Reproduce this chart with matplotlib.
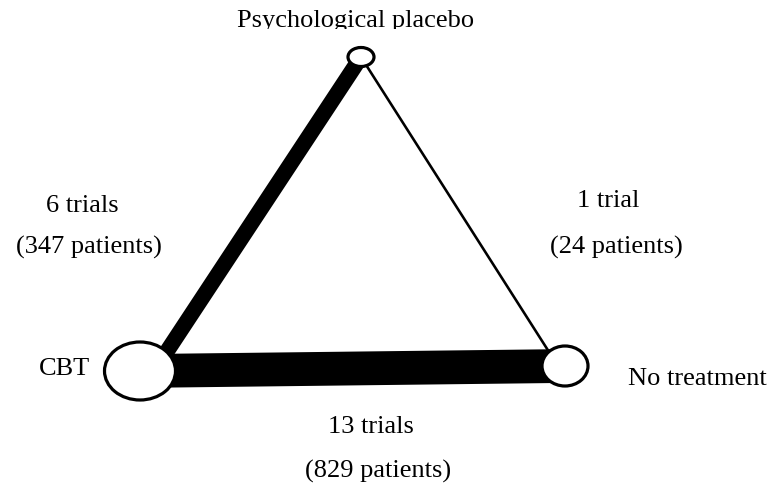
import matplotlib.pyplot as plt
from matplotlib.patches import Ellipse

# Nätverksdata
treatments = ['CBT', 'Psychological placebo', 'No treatment']
edges = [('CBT', 'Psychological placebo'), ('Psychological placebo', 'No treatment'), ('CBT', 'No treatment')]
trials = [6, 1, 13]
patients = [347, 24, 829]

# layout i pixlar
pos = {'CBT': (140, 371), 'Psychological placebo': (361, 57), 'No treatment': (565, 366)}
node_size = {'CBT': (71, 58), 'Psychological placebo': (26, 19), 'No treatment': (46, 40)}
# kanternas ändpunkter förskjuts lite från nodens mitt
anchor_shift = [((14, 0), (0, 0)), ((0, 0), (-7, 0)), ((0, 0), (0, 0))]
px = 72 / 100  # pixel -> punkter

plt.rcParams['font.family'] = ['Liberation Serif', 'DejaVu Serif']
fig = plt.figure(figsize=(7.73, 4.91), dpi=100)
ax = fig.add_axes([0, 0, 1, 1])
ax.set_xlim(0, 773)
ax.set_ylim(491, 0)
ax.axis('off')

# kanter, tjocklek efter antal studier
for (a, b), n, (sa, sb) in zip(edges, trials, anchor_shift):
    x1, y1 = pos[a][0] + sa[0], pos[a][1] + sa[1]
    x2, y2 = pos[b][0] + sb[0], pos[b][1] + sb[1]
    ax.plot([x1, x2], [y1, y2], color='black', lw=n * 2.6 * px, solid_capstyle='butt', zorder=1)

# noder
for t in treatments:
    w, h = node_size[t]
    ax.add_patch(Ellipse(pos[t], w, h, facecolor='white', edgecolor='black', lw=3.2 * px, zorder=2))

fs = 19
# titeln överst är avklippt nedtill i originalet
top = fig.add_axes([0, 1 - 29 / 491, 1, 29 / 491])
top.set_xlim(0, 773)
top.set_ylim(29, 0)
top.axis('off')
top.text(356, 27, 'Psychological placebo', ha='center', va='baseline', fontsize=fs, clip_on=True)

ax.text(65, 375, 'CBT', ha='center', va='baseline', fontsize=fs)
ax.text(697, 385, 'No treatment', ha='center', va='baseline', fontsize=fs)

# etiketter för kanterna
label_pos = [(82, 212, 89, 254), (608, 207, 616, 254), (371, 433, 378, 478)]
for (tx, ty, qx, qy), n, p in zip(label_pos, trials, patients):
    ax.text(tx, ty, f'{n} trial' + ('s' if n > 1 else ''), ha='center', va='baseline', fontsize=fs)
    ax.text(qx, qy, f'({p} patients)', ha='center', va='baseline', fontsize=fs)

fig.savefig('out.png', dpi=100)
